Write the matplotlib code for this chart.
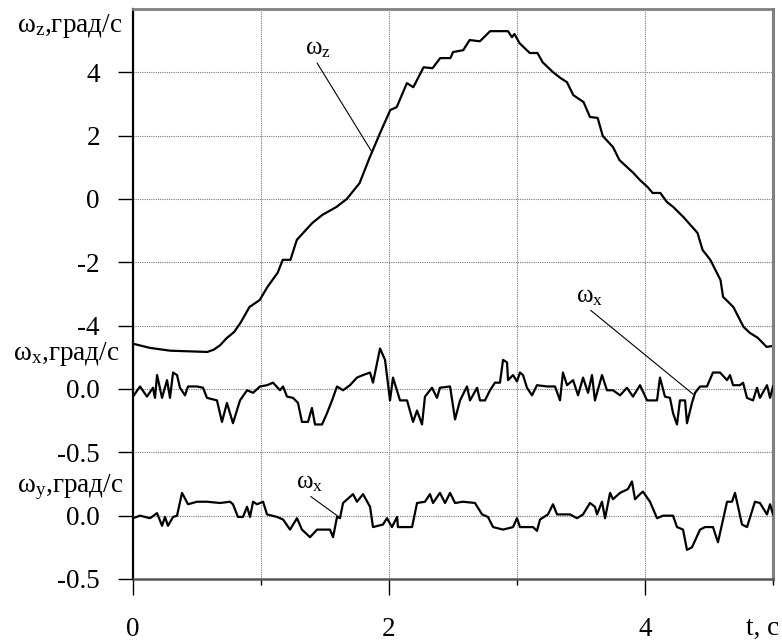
import matplotlib
matplotlib.use("Agg")
import matplotlib.pyplot as plt
from matplotlib.ticker import FixedLocator

plt.rcParams['font.family'] = ['Liberation Serif', 'DejaVu Serif']
plt.rcParams['mathtext.fontset'] = 'custom'
plt.rcParams['mathtext.rm'] = 'Liberation Serif'
plt.rcParams['mathtext.it'] = 'Liberation Serif'
plt.rcParams['mathtext.default'] = 'rm'

# ---- data ----
t_z = [0.00, 0.13, 0.29, 0.58, 0.63, 0.68, 0.73, 0.79, 0.84, 0.91, 0.99, 1.05, 1.13, 1.17, 1.23, 1.28,
       1.40, 1.48, 1.59, 1.67, 1.77, 1.85, 1.93, 2.01, 2.06, 2.14, 2.19, 2.27, 2.34, 2.40,
       2.48, 2.50, 2.58, 2.63, 2.71, 2.79, 2.93, 2.96, 2.98, 3.02, 3.10, 3.16, 3.20, 3.28,
       3.34, 3.39, 3.44, 3.52, 3.57, 3.63, 3.67, 3.75, 3.80, 3.91, 3.96, 4.02, 4.06, 4.12,
       4.17, 4.22, 4.30, 4.41, 4.45, 4.51, 4.59, 4.61, 4.69, 4.77, 4.82, 4.88, 4.95, 5.00]
w_z = [-4.57, -4.70, -4.79, -4.83, -4.76, -4.62, -4.40, -4.20, -3.91, -3.41, -3.19, -2.78, -2.33, -1.92, -1.92, -1.29,
       -0.76, -0.50, -0.25, 0.00, 0.50, 1.32, 2.08, 2.81, 2.90, 3.66, 3.53, 4.16, 4.13, 4.45,
       4.45, 4.64, 4.70, 5.02, 4.98, 5.30, 5.30, 5.11, 5.21, 4.92, 4.61, 4.61, 4.32, 4.01,
       3.82, 3.69, 3.28, 3.06, 2.59, 2.56, 1.99, 1.64, 1.23, 0.82, 0.60, 0.38, 0.19, 0.19,
       -0.09, -0.25, -0.57, -1.07, -1.61, -1.92, -2.56, -3.09, -3.41, -4.04, -4.23, -4.38, -4.67, -4.64]

t_x = [0.000, 0.055, 0.109, 0.156, 0.172, 0.188, 0.227, 0.266, 0.289, 0.313, 0.344, 0.367, 0.406,
       0.430, 0.500, 0.547, 0.578, 0.656, 0.695, 0.734, 0.781, 0.836, 0.891, 0.938, 0.992, 1.047,
       1.094, 1.148, 1.172, 1.203, 1.250, 1.289, 1.320, 1.367, 1.398, 1.422, 1.477, 1.516, 1.555,
       1.594, 1.641, 1.695, 1.750, 1.797, 1.852, 1.875, 1.930, 1.969, 2.008, 2.031, 2.086, 2.141,
       2.188, 2.219, 2.258, 2.281, 2.336, 2.375, 2.398, 2.477, 2.516, 2.555, 2.609, 2.633, 2.688,
       2.711, 2.750, 2.789, 2.828, 2.867, 2.891, 2.922, 2.930, 2.969, 3.000, 3.023, 3.047, 3.078,
       3.117, 3.156, 3.234, 3.297, 3.336, 3.359, 3.391, 3.438, 3.477, 3.516, 3.555, 3.586, 3.609,
       3.664, 3.703, 3.750, 3.805, 3.859, 3.906, 3.961, 4.016, 4.094, 4.117, 4.156, 4.195, 4.219,
       4.250, 4.273, 4.313, 4.328, 4.367, 4.391, 4.430, 4.484, 4.531, 4.586, 4.641, 4.664, 4.688,
       4.742, 4.766, 4.797, 4.844, 4.875, 4.898, 4.953, 4.977, 5.000]
w_x = [-0.06, 0.02, -0.06, 0.01, -0.07, 0.11, -0.07, 0.07, -0.07, 0.13, 0.11, 0.01, -0.05,
       0.02, 0.02, 0.01, -0.07, -0.09, -0.26, -0.11, -0.27, -0.09, -0.01, -0.03, 0.02, 0.03,
       0.05, -0.01, 0.02, -0.06, -0.07, -0.11, -0.26, -0.26, -0.15, -0.28, -0.28, -0.19, -0.09,
       0.02, -0.01, 0.03, 0.09, 0.11, 0.13, 0.05, 0.32, 0.23, -0.09, 0.09, -0.09, -0.09,
       -0.26, -0.17, -0.28, -0.06, 0.01, -0.07, 0.01, 0.02, -0.24, -0.09, 0.02, -0.09, 0.01,
       -0.09, -0.09, -0.01, 0.05, 0.05, 0.23, 0.21, 0.07, 0.11, 0.06, 0.13, 0.11, 0.01,
       -0.05, 0.03, 0.02, 0.02, -0.09, 0.13, 0.03, 0.07, -0.05, 0.09, -0.03, 0.11, -0.09,
       0.11, -0.01, -0.01, -0.05, 0.01, -0.06, 0.03, -0.09, -0.09, 0.09, -0.06, -0.07, -0.19,
       -0.28, -0.09, -0.09, -0.27, -0.11, -0.03, 0.02, 0.02, 0.13, 0.13, 0.07, 0.11, 0.03,
       0.03, 0.05, -0.07, -0.09, 0.01, -0.07, 0.03, -0.07, 0.02]

t_y = [0.000, 0.055, 0.133, 0.188, 0.227, 0.250, 0.273, 0.313, 0.344, 0.383, 0.430, 0.500, 0.578,
       0.680, 0.758, 0.781, 0.820, 0.859, 0.891, 0.914, 0.938, 0.969, 1.016, 1.047, 1.125, 1.172,
       1.227, 1.281, 1.320, 1.383, 1.438, 1.539, 1.563, 1.594, 1.617, 1.641, 1.719, 1.750, 1.797,
       1.852, 1.875, 1.953, 1.984, 2.023, 2.063, 2.070, 2.141, 2.180, 2.219, 2.281, 2.320, 2.344,
       2.398, 2.438, 2.477, 2.516, 2.578, 2.672, 2.727, 2.773, 2.813, 2.891, 2.969, 3.000, 3.023,
       3.078, 3.125, 3.156, 3.180, 3.242, 3.281, 3.313, 3.359, 3.414, 3.469, 3.516, 3.570, 3.609,
       3.625, 3.664, 3.688, 3.727, 3.750, 3.805, 3.867, 3.898, 3.922, 3.961, 3.984, 4.039, 4.094,
       4.141, 4.219, 4.250, 4.297, 4.328, 4.367, 4.430, 4.469, 4.531, 4.570, 4.641, 4.680, 4.703,
       4.758, 4.797, 4.859, 4.898, 4.953, 4.977, 5.000]
w_y = [-0.02, 0.00, -0.02, 0.02, -0.08, -0.01, -0.08, -0.01, 0.00, 0.18, 0.09, 0.11, 0.11,
       0.10, 0.11, 0.09, -0.01, -0.01, 0.07, -0.01, 0.11, 0.09, 0.11, 0.01, -0.01, -0.03,
       -0.11, -0.02, -0.11, -0.17, -0.11, -0.11, -0.17, -0.01, -0.02, 0.10, 0.17, 0.11, 0.17,
       0.07, -0.09, -0.07, -0.02, -0.09, -0.01, -0.09, -0.09, -0.09, 0.10, 0.11, 0.17, 0.10,
       0.18, 0.10, 0.18, 0.10, 0.11, 0.10, 0.01, -0.01, -0.09, -0.11, -0.09, -0.02, -0.09,
       -0.09, -0.09, -0.12, -0.03, 0.01, 0.09, 0.01, 0.01, 0.01, -0.02, 0.01, 0.10, 0.07,
       0.01, 0.11, -0.02, 0.18, 0.13, 0.18, 0.21, 0.27, 0.13, 0.17, 0.19, 0.11, -0.02,
       0.00, 0.00, -0.09, -0.11, -0.27, -0.25, -0.11, -0.09, -0.09, -0.21, 0.11, 0.11, 0.18,
       -0.07, -0.09, 0.11, 0.10, 0.01, 0.09, 0.01]

x_ticks = [0, 2, 4]
x_minor = [1, 3, 5]
z_ticks = [4, 2, 0, -2, -4]
x_axis_ticks = [0.0, -0.5]
y_axis_ticks = [0.0, -0.5]

# ---- figure ----
W, H = 782, 641
fig = plt.figure(figsize=(W / 100, H / 100), dpi=100)
L, R, T, B = 133, 773, 9, 579
rect = [L / W, 1 - B / H, (R - L) / W, (B - T) / H]

ax_z = fig.add_axes(rect)
ax_x = fig.add_axes(rect, sharex=ax_z)
ax_y = fig.add_axes(rect, sharex=ax_z)

grid_kw = dict(color='#7a7a7a', linestyle=(0, (1, 1)), linewidth=0.8)
tick_fs = 19.5
lab_fs = 19.5
ann_fs = 18

for ax in (ax_x, ax_y):
    ax.patch.set_visible(False)
    for s in ax.spines.values():
        s.set_visible(False)
    ax.tick_params(axis='x', which='both', bottom=False, labelbottom=False)

ax_z.set_xlim(0, 5)
ax_z.set_ylim(-12, 6)
ax_x.set_ylim(-1.5, 3.0)
ax_y.set_ylim(-0.5, 4.0)

ax_z.plot(t_z, w_z, color='black', lw=1.6)
ax_x.plot(t_x, w_x, color='black', lw=1.6)
ax_y.plot(t_y, w_y, color='black', lw=1.6)

# y ticks
ax_z.set_yticks(z_ticks)
ax_z.set_yticklabels([f"{v:g}" for v in z_ticks])
ax_x.set_yticks(x_axis_ticks)
ax_x.set_yticklabels([f"{v:.1f}" for v in x_axis_ticks])
ax_y.set_yticks(y_axis_ticks)
ax_y.set_yticklabels([f"{v:.1f}" for v in y_axis_ticks])
for ax in (ax_z, ax_x, ax_y):
    ax.tick_params(axis='y', direction='out', length=10.8, width=1.0, pad=13,
                   labelsize=tick_fs, color='black')
    ax.yaxis.grid(True, **grid_kw)

# x ticks
ax_z.set_xticks(x_ticks)
ax_z.set_xticklabels([str(v) for v in x_ticks])
ax_z.xaxis.set_minor_locator(FixedLocator(x_minor))
ax_z.tick_params(axis='x', which='major', direction='out', length=11.5, width=1.0,
                 pad=16, labelsize=tick_fs)
ax_z.tick_params(axis='x', which='minor', direction='out', length=4.3, width=1.0)
ax_z.xaxis.grid(True, which='both', **grid_kw)
ax_z.set_axisbelow(True)

# spines
ax_z.spines['left'].set_color('black')
ax_z.spines['left'].set_linewidth(1.6)
ax_z.spines['top'].set_color('#808080')
ax_z.spines['top'].set_linewidth(2.0)
ax_z.spines['right'].set_color('#808080')
ax_z.spines['right'].set_linewidth(2.2)
ax_z.spines['bottom'].set_color('#555555')
ax_z.spines['bottom'].set_linewidth(1.8)

# axis labels
fig.text(17 / W, 1 - 32 / H, r'$\omega_{z}$,град/с', fontsize=lab_fs, ha='left', va='baseline')
fig.text(13 / W, 1 - 360 / H, r'$\omega_{x}$,град/с', fontsize=lab_fs, ha='left', va='baseline')
fig.text(17 / W, 1 - 492 / H, r'$\omega_{y}$,град/с', fontsize=lab_fs, ha='left', va='baseline')
fig.text(779 / W, 1 - 635 / H, 't, с', fontsize=tick_fs, ha='right', va='baseline')

# annotations
arrow = dict(arrowstyle='-', color='black', lw=0.8, shrinkA=0, shrinkB=0, relpos=(0.4, 0.0))
ax_z.annotate(r'$\omega_{z}$', xy=(1.867, 1.48), xytext=(1.445, 4.73), fontsize=ann_fs,
              ha='center', va='center', arrowprops=arrow)
ax_x.annotate(r'$\omega_{x}$', xy=(4.375, -0.04), xytext=(3.57, 0.73), fontsize=ann_fs,
              ha='center', va='center', arrowprops=arrow)
ax_y.annotate(r'$\omega_{x}$', xy=(1.617, -0.016), xytext=(1.38, 0.26), fontsize=ann_fs,
              ha='center', va='center', arrowprops=arrow)

fig.savefig('out.png', dpi=100)
